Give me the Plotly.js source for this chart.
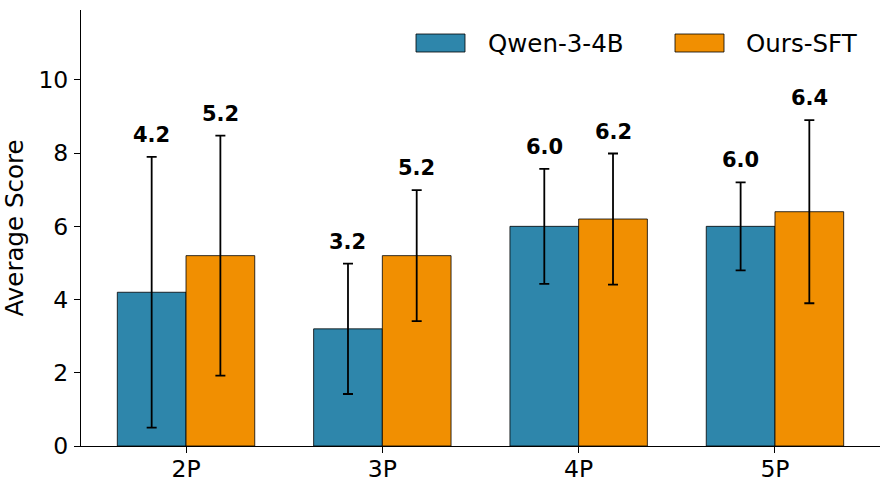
<!DOCTYPE html>
<html>
<head>
<meta charset="utf-8">
<script src="https://cdn.plot.ly/plotly-3.0.1.min.js"></script>
<style>html,body{margin:0;padding:0;background:#fff;}#chart{width:889px;height:490px;}</style>
</head>
<body>
<div id="chart"></div>
<script>
const categories = ["2P", "3P", "4P", "5P"];
const seriesNames = ["Qwen-3-4B", "Ours-SFT"];
const qwenValues = [4.2, 3.2, 6.0, 6.0];
const qwenErrors = [3.7, 1.78, 1.57, 1.2];
const oursValues = [5.2, 5.2, 6.2, 6.4];
const oursErrors = [3.28, 1.79, 1.79, 2.5];
const yTicks = [0, 2, 4, 6, 8, 10];

const colors = ["#2E86AB", "#F18F01"];
const font = "DejaVu Sans, sans-serif";

function barTrace(name, vals, errs, color, offset) {
  return {
    type: "bar", name: name, x: categories, y: vals,
    width: 0.35, offset: offset,
    marker: {color: color, line: {color: "#000", width: 0.8}},
    error_y: {type: "data", array: errs, visible: true, color: "#000", thickness: 1.8, width: 5},
    showlegend: false, hoverinfo: "skip"
  };
}

const traces = [
  barTrace(seriesNames[0], qwenValues, qwenErrors, colors[0], -0.35),
  barTrace(seriesNames[1], oursValues, oursErrors, colors[1], 0)
];

const annotations = [];
function addLabels(vals, errs, shift) {
  vals.forEach((v, i) => {
    annotations.push({
      x: i + shift, y: v + errs[i], xref: "x", yref: "y",
      text: "<b>" + v.toFixed(1) + "</b>", showarrow: false,
      yanchor: "bottom", yshift: 8,
      font: {family: font, size: 21, color: "#000"}
    });
  });
}
addLabels(qwenValues, qwenErrors, -0.175);
addLabels(oursValues, oursErrors, 0.175);

// custom legend
const shapes = [];
const legendItems = [
  {x0: 416, text: seriesNames[0], color: colors[0], tx: 486},
  {x0: 675, text: seriesNames[1], color: colors[1], tx: 744}
];
const W = 889, H = 490, ml = 81, mr = 9, mt = 10, mb = 44;
const pw = W - ml - mr, ph = H - mt - mb;
function px2x(p) { return (p - ml) / pw; }
function py2y(p) { return 1 - (p - mt) / ph; }
legendItems.forEach(it => {
  shapes.push({type: "rect", xref: "paper", yref: "paper",
    x0: px2x(it.x0), x1: px2x(it.x0 + 49), y0: py2y(52), y1: py2y(34),
    fillcolor: it.color, line: {color: "#000", width: 0.8}});
  annotations.push({xref: "paper", yref: "paper", x: px2x(it.tx), y: py2y(43),
    xanchor: "left", yanchor: "middle", showarrow: false, text: it.text,
    font: {family: font, size: 24.5, color: "#000"}});
});

const layout = {
  width: W, height: H,
  margin: {l: ml, r: mr, t: mt, b: mb},
  paper_bgcolor: "#fff", plot_bgcolor: "#fff",
  barmode: "group", bargap: 0.3, bargroupgap: 0,
  font: {family: font, size: 24.5, color: "#000"},
  xaxis: {
    range: [-0.535, 3.535], showgrid: false, zeroline: false,
    showline: true, linecolor: "#000", linewidth: 1,
    ticks: "outside", ticklen: 6, tickwidth: 1, tickcolor: "#000",
    ticklabelstandoff: -4,
    tickfont: {family: font, size: 23.5, color: "#000"}
  },
  yaxis: {
    range: [0, 11.91], showgrid: false, zeroline: false,
    showline: true, linecolor: "#000", linewidth: 1,
    ticks: "outside", ticklen: 6, tickwidth: 1, tickcolor: "#000",
    tickvals: yTicks, ticktext: yTicks.map(String),
    ticklabelstandoff: 1,
    tickfont: {family: font, size: 23.5, color: "#000"},
    title: {text: "Average Score", font: {family: font, size: 24.5, color: "#000"}, standoff: 8}
  },
  annotations: annotations,
  shapes: shapes
};

Plotly.newPlot("chart", traces, layout, {displayModeBar: false, staticPlot: true});
</script>
</body>
</html>
